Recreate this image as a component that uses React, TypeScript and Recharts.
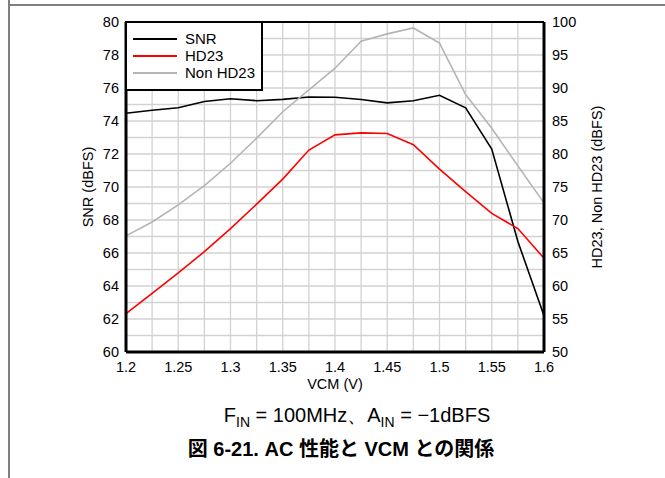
import {
  LineChart,
  Line,
  XAxis,
  YAxis,
  CartesianGrid,
  Legend,
  ReferenceLine,
} from "recharts";

const FONT = '"Liberation Sans", Arial, sans-serif';

const vcm = [
  1.2, 1.225, 1.25, 1.275, 1.3, 1.325, 1.35, 1.375, 1.4, 1.425, 1.45, 1.475,
  1.5, 1.525, 1.55, 1.575, 1.6,
];
const snr = [
  74.47, 74.65, 74.8, 75.18, 75.35, 75.23, 75.31, 75.45, 75.44, 75.3, 75.1,
  75.23, 75.56, 74.8, 72.3, 66.7, 62.2,
];
const hd23 = [
  55.8, 58.9, 62.0, 65.2, 68.7, 72.4, 76.2, 80.6, 82.9, 83.2, 83.1, 81.4, 77.7,
  74.3, 71.0, 68.7, 64.2,
];
const nonHd23 = [
  67.6, 69.7, 72.3, 75.2, 78.6, 82.4, 86.4, 89.7, 93.0, 97.1, 98.2, 99.1, 96.8,
  89.0, 83.9, 78.2, 72.6,
];

const xTicks = vcm;
const xLabels = [1.2, 1.25, 1.3, 1.35, 1.4, 1.45, 1.5, 1.55, 1.6];
const snrTicks = [
  60, 61, 62, 63, 64, 65, 66, 67, 68, 69, 70, 71, 72, 73, 74, 75, 76, 77, 78,
  79, 80,
];
const snrLabels = [60, 62, 64, 66, 68, 70, 72, 74, 76, 78, 80];
const hdTicks = [50, 55, 60, 65, 70, 75, 80, 85, 90, 95, 100];

const SERIES = [
  { key: "snr", label: "SNR", color: "#000000", axis: "left" },
  { key: "hd23", label: "HD23", color: "#ff0000", axis: "right" },
  { key: "nonHd23", label: "Non HD23", color: "#b4b4b4", axis: "right" },
];

const data = vcm.map((v, i) => ({
  vcm: v,
  snr: snr[i],
  hd23: hd23[i],
  nonHd23: nonHd23[i],
}));

function LegendBox() {
  return (
    <div
      style={{
        border: "2px solid #000",
        background: "#fff",
        padding: "8px 6px 8px 6px",
        boxSizing: "border-box",
        width: 138,
        height: 70,
        fontFamily: FONT,
        fontSize: 15,
        color: "#000",
        whiteSpace: "nowrap",
      }}
    >
      {SERIES.map((s) => (
        <div
          key={s.key}
          style={{ display: "flex", alignItems: "center", height: 16.7 }}
        >
          <span
            style={{
              display: "inline-block",
              flex: "none",
              width: 44,
              height: 2,
              background: s.color,
              marginRight: 8,
            }}
          />
          <span style={{ lineHeight: "16px", whiteSpace: "nowrap" }}>
            {s.label}
          </span>
        </div>
      ))}
    </div>
  );
}

const tickStyle = { fontSize: 14.5, fill: "#000", fontFamily: FONT };

export default function App() {
  return (
    <div
      style={{
        position: "absolute",
        left: 0,
        top: 0,
        width: 665,
        height: 478,
        background: "#fff",
        fontFamily: FONT,
        overflow: "hidden",
      }}
    >
      <div style={{ position: "absolute", left: 0, top: 0 }}>
        <LineChart
          width={665}
          height={478}
          data={data}
          margin={{ top: 22, right: 0, bottom: 86, left: 0 }}
        >
          <CartesianGrid yAxisId="left" stroke="#d2d2d2" strokeWidth={1.3} />
          <XAxis
            dataKey="vcm"
            type="number"
            domain={[1.2, 1.6]}
            ticks={xTicks}
            interval={0}
            tickFormatter={(v: number) =>
              xLabels.includes(v) ? String(v) : ""
            }
            tick={tickStyle}
            tickLine={false}
            tickSize={6}
            tickMargin={4}
            height={40}
            axisLine={{ stroke: "#000", strokeWidth: 3 }}
            label={{
              value: "VCM (V)",
              position: "insideBottom",
              offset: 3,
              fontSize: 14.5,
              fill: "#000",
              fontFamily: FONT,
            }}
          />
          <YAxis
            yAxisId="left"
            domain={[60, 80]}
            ticks={snrTicks}
            interval={0}
            tickFormatter={(v: number) =>
              snrLabels.includes(v) ? String(v) : ""
            }
            tick={tickStyle}
            tickLine={false}
            tickSize={6}
            tickMargin={1}
            width={126}
            axisLine={{ stroke: "#000", strokeWidth: 3 }}
            label={{
              value: "SNR (dBFS)",
              angle: -90,
              position: "center",
              dx: 25,
              fontSize: 14.5,
              fill: "#000",
              fontFamily: FONT,
            }}
          />
          <YAxis
            yAxisId="right"
            orientation="right"
            domain={[50, 100]}
            ticks={hdTicks}
            interval={0}
            tick={tickStyle}
            tickLine={false}
            tickSize={6}
            tickMargin={2}
            width={121}
            axisLine={{ stroke: "#000", strokeWidth: 3 }}
            label={{
              value: "HD23, Non HD23 (dBFS)",
              angle: -90,
              position: "center",
              dx: -8,
              fontSize: 14.5,
              fill: "#000",
              fontFamily: FONT,
            }}
          />
          <ReferenceLine yAxisId="left" y={80} stroke="#000" strokeWidth={2} />
          {SERIES.map((s) => (
            <Line
              key={s.key}
              yAxisId={s.axis}
              type="linear"
              dataKey={s.key}
              name={s.label}
              stroke={s.color}
              strokeWidth={1.6}
              dot={false}
              isAnimationActive={false}
            />
          ))}
          <Legend
            layout="horizontal"
            verticalAlign="middle"
            align="center"
            content={<LegendBox />}
            wrapperStyle={{ left: 125, top: 21, width: 138, height: 70 }}
          />
        </LineChart>
      </div>
      <div
        style={{
          position: "absolute",
          left: 8,
          top: 4,
          width: 657,
          height: 2,
          background: "#7f7f7f",
        }}
      />
      <div
        style={{
          position: "absolute",
          left: 8,
          top: 0,
          width: 1.5,
          height: 478,
          background: "#7f7f7f",
        }}
      />
      <div
        style={{
          position: "absolute",
          left: 357,
          top: 405,
          transform: "translateX(-50%)",
          whiteSpace: "nowrap",
          fontSize: 20,
          lineHeight: "20px",
          color: "#000",
        }}
      >
        F<sub style={{ fontSize: 14, lineHeight: 0 }}>IN</sub> = 100MHz、A
        <sub style={{ fontSize: 14, lineHeight: 0 }}>IN</sub> = −1dBFS
      </div>
      <div
        style={{
          position: "absolute",
          left: 341,
          top: 439,
          transform: "translateX(-50%)",
          whiteSpace: "nowrap",
          fontSize: 20,
          lineHeight: "20px",
          fontWeight: "bold",
          color: "#000",
          fontFamily: '"Liberation Sans", "Noto Sans CJK JP", sans-serif',
        }}
      >
        図 6-21. AC 性能と VCM との関係
      </div>
    </div>
  );
}
